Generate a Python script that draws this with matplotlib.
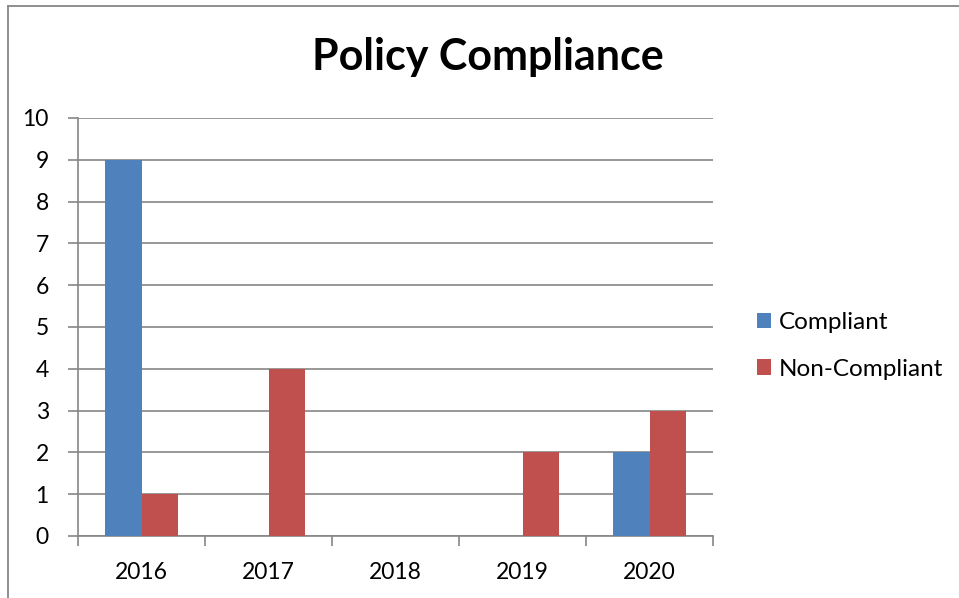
import matplotlib
matplotlib.use("Agg")
import matplotlib.pyplot as plt
from matplotlib.lines import Line2D
from matplotlib.patches import Patch
import numpy as np

years = ["2016", "2017", "2018", "2019", "2020"]
compliant = [9, 0, 0, 0, 2]
non_compliant = [1, 4, 0, 2, 3]
series_names = ["Compliant", "Non-Compliant"]
colors = ["#4F81BD", "#C0504D"]

W, H = 959, 598
fig = plt.figure(figsize=(W / 100, H / 100), dpi=100)
plt.rcParams['font.family'] = ['Lato', 'DejaVu Sans']

# axes placement in pixels
left, right, top, bottom = 78, 713, 118, 536
ax = fig.add_axes([left / W, 1 - bottom / H, (right - left) / W, (bottom - top) / H])

x = np.arange(len(years))
bw = 1 / 3.5
ax.bar(x - bw / 2, compliant, width=bw, color=colors[0], zorder=3)
ax.bar(x + bw / 2, non_compliant, width=bw, color=colors[1], zorder=3)

ax.set_xlim(-0.5, len(years) - 0.5)
ax.set_ylim(0, 10)
ax.set_yticks(range(0, 11))
ax.set_xticks(x)
ax.set_xticklabels(years)
ax.set_xticks(np.arange(-0.5, len(years)), minor=True)
ax.tick_params(axis='x', which='major', length=0, pad=19, labelsize=16.5)
ax.tick_params(axis='x', which='minor', length=7, width=1.2, color='#868686', direction='out')
ax.tick_params(axis='y', length=7, width=1.2, color='#868686', direction='out', pad=14, labelsize=16.5)

ax.grid(axis='y', color='#868686', linewidth=1.2, zorder=0)
for s in ['top', 'right']:
    ax.spines[s].set_visible(False)
for s in ['left', 'bottom']:
    ax.spines[s].set_color('#868686')
    ax.spines[s].set_linewidth(1.2)

fig.text(488 / W, 1 - 57 / H, "Policy Compliance", ha='center', va='center',
         fontsize=31, fontweight='bold')

handles = [Patch(facecolor=c, edgecolor='none') for c in colors]
leg = fig.legend(handles, series_names, loc='center left',
                 bbox_to_anchor=(735 / W, 1 - 346 / H), frameon=False,
                 fontsize=17.5, handlelength=0.6, handleheight=0.6,
                 handletextpad=0.3, labelspacing=1.05)

# chart border (left and top visible)
fig.add_artist(Line2D([8 / W, 8 / W], [0, 1 - 6 / H], transform=fig.transFigure,
                      color='#868686', linewidth=1.3))
fig.add_artist(Line2D([8 / W, 1], [1 - 6 / H, 1 - 6 / H], transform=fig.transFigure,
                      color='#868686', linewidth=1.3))

fig.savefig("out.png", dpi=100)
